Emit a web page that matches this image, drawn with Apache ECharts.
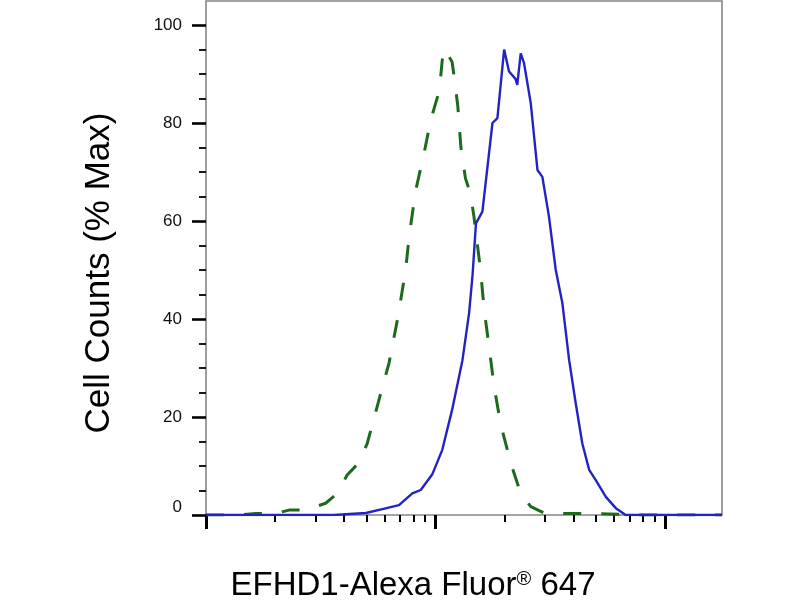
<!DOCTYPE html>
<html>
<head>
<meta charset="utf-8">
<title>EFHD1 flow histogram</title>
<script src="https://cdn.jsdelivr.net/npm/echarts@6/dist/echarts.min.js"></script>
<style>
  html, body { margin: 0; padding: 0; background: #fff; }
  #chart { width: 800px; height: 600px; }
</style>
</head>
<body>
<div id="chart"></div>
<script>
// axis ticks
const yTicks = [0, 20, 40, 60, 80, 100];
const xRange = [1, 177];
const xMajorTicks = [1, 10, 100];
const xMinorTicks = [2, 3, 4, 5, 6, 7, 8, 9, 20, 30, 40, 50, 60, 70, 80, 90];

// EFHD1 stained cells (blue solid)
const stainedX = [1, 3.6, 4.97, 5.87, 6.93, 7.92, 8.62, 9.68, 10.7, 11.8, 13.1, 14.0, 14.5, 15.0, 16.0,
  17.7, 18.6, 19.9, 20.9, 22.3, 22.7, 23.5, 24.3, 26.0, 27.8, 29.2, 31.2, 33.4, 35.7, 38.2,
  40.8, 43.6, 46.7, 49.9, 55.2, 61.0, 67.4, 177];
const stainedY = [0, 0, 0.4, 1.2, 2.0, 4.4, 5.1, 8.3, 13.3, 21.4, 31.6, 41.2, 49, 59.5, 61.9,
  80, 81, 95, 90.5, 89, 87.8, 94.2, 92.2, 84, 70.4, 69, 60.9, 50, 43.2, 31.6,
  22.8, 14.6, 9.2, 7.1, 3.7, 1.4, 0, 0];

// control (green dashed)
const controlX = [1, 1.39, 1.65, 1.79, 2.08, 2.30, 2.62, 2.96, 3.32, 3.67, 4.13, 4.64, 5.04, 5.67, 6.27,
  6.82, 7.41, 7.67, 8.20, 8.91, 9.53, 10.4, 10.7, 11.0, 11.3, 11.8, 12.0, 12.5, 12.9, 13.5,
  14.2, 14.7, 15.7, 16.3, 17.1, 18.0, 19.2, 21.3, 23.5, 26.0, 29.7, 38.2, 46.7, 57.0, 77.1, 177];
const controlY = [0, 0, 0.3, 0.3, 0.5, 1.0, 1.0, 1.6, 2.4, 4.1, 8.2, 10.7, 14.6, 23.5, 31,
  39.8, 50, 56.8, 66.3, 73.8, 80.6, 86.7, 92.9, 95.2, 94, 92.5, 90.1, 83.5, 75, 68.7,
  65.6, 60.9, 50, 41.8, 34.4, 26.2, 18.6, 10.5, 4.4, 1.7, 0.4, 0.3, 0.3, 0.2, 0, 0];

const FONT = '"Liberation Sans", Arial, sans-serif';
const pairs = (xs, ys) => xs.map((x, i) => [x, ys[i]]);

const chart = echarts.init(document.getElementById('chart'));

const option = {
  backgroundColor: '#fff',
  animation: false,
  grid: [
    { left: 206, right: 78, top: 25, bottom: 85 },
    // outer frame, taller than the data area
    { left: 206, right: 78, top: 1, bottom: 85, show: true, backgroundColor: 'transparent',
      borderColor: '#858585', borderWidth: 1.6 }
  ],
  xAxis: [
    {
      type: 'log', logBase: 10, gridIndex: 0, min: xRange[0], max: xRange[1], position: 'bottom',
      axisLine: { show: false },
      axisTick: { customValues: xMajorTicks, length: 14, lineStyle: { color: '#000', width: 3 } },
      axisLabel: { show: false },
      splitLine: { show: false }
    },
    {
      type: 'log', logBase: 10, gridIndex: 0, min: xRange[0], max: xRange[1], position: 'bottom',
      axisLine: { show: false },
      axisTick: { customValues: xMinorTicks, length: 7, lineStyle: { color: '#000', width: 2 } },
      axisLabel: { show: false },
      splitLine: { show: false }
    },
    { type: 'value', gridIndex: 1, show: false }
  ],
  yAxis: [
    {
      type: 'value', gridIndex: 0,
      min: yTicks[0], max: yTicks[yTicks.length - 1], interval: yTicks[1] - yTicks[0],
      axisLine: { show: false },
      axisTick: { length: 14, lineStyle: { color: '#000', width: 2.6 } },
      minorTick: { show: true, splitNumber: 4, length: 7, lineStyle: { color: '#000', width: 1.8 } },
      axisLabel: {
        margin: 24, fontSize: 17, color: '#111', fontFamily: FONT,
        formatter: v => v === 0 ? '{z|0}' : String(v),
        rich: { z: { fontSize: 17, fontFamily: FONT, color: '#111', padding: [0, 0, 16, 0] } }
      },
      splitLine: { show: false }
    },
    { type: 'value', gridIndex: 1, show: false }
  ],
  graphic: [
    {
      type: 'text', x: 99, y: 273, rotation: Math.PI / 2,
      style: { text: 'Cell Counts (% Max)', font: '35px ' + FONT, fill: '#000',
        align: 'center', verticalAlign: 'middle' }
    },
    {
      type: 'text', x: 413, y: 586,
      style: {
        text: '{a|EFHD1-Alexa Fluor}{b|®}{a| 647}',
        align: 'center', verticalAlign: 'middle',
        rich: {
          a: { fontSize: 33, fontFamily: FONT, color: '#000' },
          b: { fontSize: 20, fontFamily: FONT, color: '#000', verticalAlign: 'top' }
        }
      }
    }
  ],
  series: [
    {
      name: 'Control', type: 'line', xAxisIndex: 0, yAxisIndex: 0,
      data: pairs(controlX, controlY), showSymbol: false,
      lineStyle: { color: '#1d6a1d', width: 3, type: [18, 20] }
    },
    {
      name: 'EFHD1', type: 'line', xAxisIndex: 0, yAxisIndex: 0,
      data: pairs(stainedX, stainedY), showSymbol: false,
      lineStyle: { color: '#2323c4', width: 2.4 }
    }
  ]
};

chart.setOption(option);
</script>
</body>
</html>
